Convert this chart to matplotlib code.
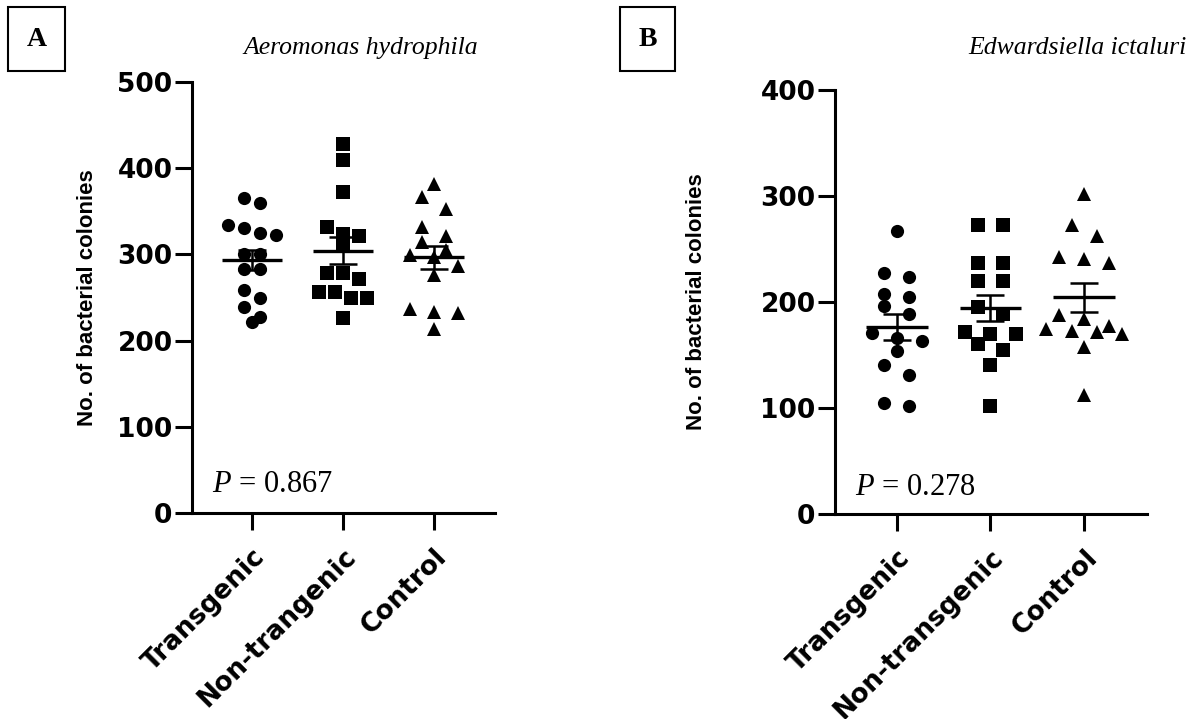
import numpy as np
import matplotlib.pyplot as plt
from matplotlib.patches import Rectangle

plt.rcParams['font.family'] = ['Liberation Sans', 'DejaVu Sans']
plt.rcParams['mathtext.fontset'] = 'custom'
plt.rcParams['mathtext.it'] = 'Liberation Serif:italic'
plt.rcParams['mathtext.rm'] = 'Liberation Serif'

# colony counts per fish, A. hydrophila challenge
groups_a = ["Transgenic", "Non-trangenic", "Control"]
a_transgenic = [366, 360, 334, 331, 325, 323, 301, 300, 283, 283, 259, 249, 239, 227, 222]
a_nontransgenic = [428, 409, 372, 332, 324, 321, 312, 279, 278, 272, 256, 256, 250, 249, 226]
a_control = [382, 367, 353, 332, 321, 314, 305, 299, 297, 287, 276, 237, 233, 232, 213]
p_a = "0.867"

# colony counts per fish, E. ictaluri challenge
groups_b = ["Transgenic", "Non-transgenic", "Control"]
b_transgenic = [267, 227, 224, 208, 205, 196, 189, 171, 166, 163, 154, 141, 131, 105, 102]
b_nontransgenic = [273, 273, 237, 237, 220, 220, 195, 189, 172, 170, 170, 160, 155, 141, 102]
b_control = [302, 273, 262, 242, 241, 237, 188, 184, 177, 175, 173, 172, 170, 158, 112]
p_b = "0.278"

markers = ["o", "s", "^"]
TICK_FONT = "DejaVu Sans"


def swarm_offsets(values, row_height, spacing):
    # group points that sit within one symbol height and spread each row about the centre
    values = np.asarray(values, dtype=float)
    order = np.argsort(values)[::-1]
    offsets = np.zeros(len(values))
    i = 0
    while i < len(order):
        top = values[order[i]]
        j = i
        while j < len(order) and top - values[order[j]] < row_height:
            j += 1
        n = j - i
        for k, idx in enumerate(order[i:j]):
            offsets[idx] = (k - (n - 1) / 2) * spacing
        i = j
    return offsets


def draw_panel(ax, data, labels, ymax, row_height, spacings, label_x):
    for i, vals in enumerate(data):
        vals = np.asarray(vals, dtype=float)
        x = i + swarm_offsets(vals, row_height, spacings[i])
        ax.plot(x, vals, linestyle="none", marker=markers[i], markersize=9.5,
                color="black", markeredgewidth=0, zorder=3)
        mean = vals.mean()
        sem = vals.std(ddof=1) / np.sqrt(len(vals))
        ax.hlines(mean, i - 0.33, i + 0.33, color="black", lw=2.4, zorder=4)
        ax.errorbar(i, mean, yerr=sem, fmt="none", ecolor="black",
                    elinewidth=1.8, capsize=10, capthick=1.8, zorder=4)

    ax.set_xlim(-0.66, 2.67)
    ax.set_ylim(0, ymax)
    ax.set_yticks(np.arange(0, ymax + 1, 100))
    ax.set_xticks(range(3))
    ax.set_xticklabels(labels, rotation=45, ha="right", rotation_mode="anchor",
                       fontsize=19, fontweight="bold", family=TICK_FONT)
    for t in ax.get_yticklabels():
        t.set_fontsize(19)
        t.set_fontweight("bold")
        t.set_family(TICK_FONT)
    for side in ["top", "right"]:
        ax.spines[side].set_visible(False)
    for side in ["left", "bottom"]:
        ax.spines[side].set_linewidth(2.2)
    ax.tick_params(axis="both", length=12, width=2.2, pad=2)
    ax.tick_params(axis="x", pad=10)
    ax.set_ylabel("No. of bacterial colonies", fontsize=16, fontweight="bold")
    ax.yaxis.set_label_coords(label_x, 0.5)


fig = plt.figure(figsize=(11.94, 7.19), dpi=100)

ax_a = fig.add_axes([0.1608, 0.2865, 0.2538, 0.5994])
draw_panel(ax_a, [a_transgenic, a_nontransgenic, a_control], groups_a, 500, 14.5,
           [0.175, 0.175, 0.26], -0.31)

ax_b = fig.add_axes([0.6993, 0.2851, 0.2613, 0.5897])
draw_panel(ax_b, [b_transgenic, b_nontransgenic, b_control], groups_b, 400, 11.5,
           [0.27, 0.27, 0.27], -0.41)

# species names
fig.text(0.204, 1 - 54 / 719, "Aeromonas hydrophila", family="Liberation Serif",
         style="italic", fontsize=18.5, va="baseline", ha="left")
fig.text(0.994, 1 - 54 / 719, "Edwardsiella ictaluri", family="Liberation Serif",
         style="italic", fontsize=18.5, va="baseline", ha="right")

# P values
fig.text(212 / 1194, 1 - 492 / 719, r"$P$ = " + p_a, family="Liberation Serif",
         fontsize=22, va="baseline")
fig.text(855 / 1194, 1 - 495 / 719, r"$P$ = " + p_b, family="Liberation Serif",
         fontsize=22, va="baseline")

# boxed panel letters
for x0, x1, letter in [(8, 65, "A"), (620, 675, "B")]:
    fig.add_artist(Rectangle((x0 / 1194, 1 - 71 / 719), (x1 - x0) / 1194, 64 / 719,
                             transform=fig.transFigure, fill=False, lw=1.5, ec="black"))
    fig.text((x0 + x1) / 2 / 1194, 1 - 40 / 719, letter, family="Liberation Serif",
             fontweight="bold", fontsize=20, ha="center", va="center")

fig.savefig("out.png", dpi=100)
